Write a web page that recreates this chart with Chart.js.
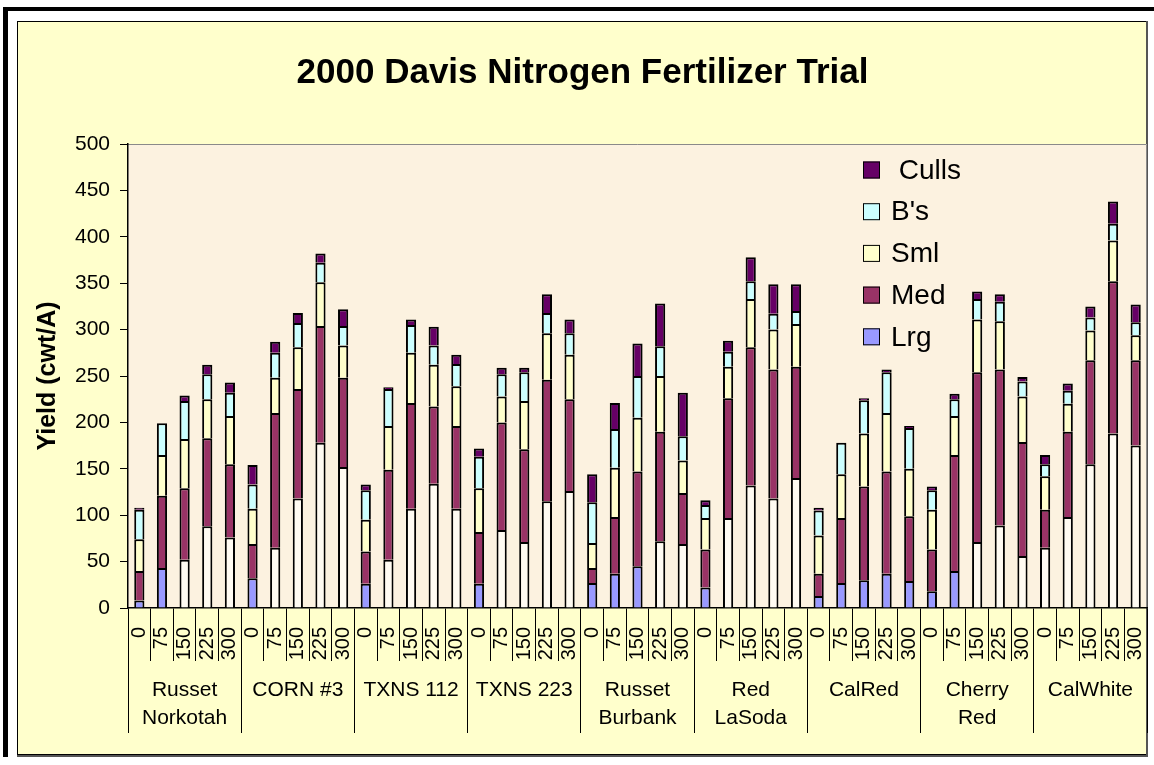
<!DOCTYPE html>
<html>
<head>
<meta charset="utf-8">
<title>2000 Davis Nitrogen Fertilizer Trial</title>
<script src="https://cdn.jsdelivr.net/npm/chart.js@4.4.1/dist/chart.umd.min.js"></script>
<style>
    html, body { margin: 0; padding: 0; background: #ffffff; }
    #chart_wrap { position: relative; width: 1154px; height: 765px; }
</style>
</head>
<body>
<div id="chart_wrap"><canvas id="chart_yield"></canvas></div>
<script>
// varieties and nitrogen rates (lb N/A)
const varieties = [
    ['Russet', 'Norkotah'], 'CORN #3', 'TXNS 112', 'TXNS 223', ['Russet', 'Burbank'],
    ['Red', 'LaSoda'], 'CalRed', ['Cherry', 'Red'], 'CalWhite',
];
const rates = ['0', '75', '150', '225', '300'];

// yield by size class (cwt/A), 5 rates per variety
const lrg_values = [
    8, 43, 52, 88, 76,
    32, 65, 118, 178, 152,
    26, 52, 107, 134, 107,
    26, 84, 71, 115, 126,
    27, 37, 45, 72, 69,
    22, 97, 132, 118, 140,
    13, 27, 30, 37, 29,
    18, 40, 71, 89, 56,
    65, 98, 155, 188, 175,
];
const med_values = [
    32, 78, 77, 95, 79,
    37, 145, 118, 126, 96,
    35, 97, 114, 83, 89,
    56, 116, 100, 131, 99,
    16, 61, 102, 118, 55,
    41, 129, 149, 139, 120,
    24, 70, 101, 110, 70,
    45, 125, 183, 168, 123,
    41, 92, 112, 164, 92,
];
const sml_values = [
    34, 44, 53, 42, 52,
    38, 38, 45, 47, 35,
    34, 47, 54, 45, 43,
    47, 28, 52, 50, 48,
    27, 53, 58, 60, 35,
    34, 34, 52, 43, 46,
    41, 47, 57, 63, 51,
    43, 42, 57, 52, 49,
    36, 30, 32, 44, 27,
];
const bs_values = [
    32, 34, 41, 27, 25,
    26, 27, 26, 21, 21,
    32, 40, 30, 21, 24,
    34, 24, 31, 22, 23,
    44, 42, 45, 32, 26,
    14, 16, 19, 17, 14,
    27, 34, 36, 44, 44,
    21, 18, 22, 21, 16,
    13, 14, 14, 18, 14,
];
const culls_values = [
    2, 0, 6, 10, 11,
    21, 12, 11, 10, 18,
    6, 2, 6, 20, 10,
    9, 7, 5, 20, 15,
    30, 28, 35, 46, 47,
    5, 12, 26, 32, 29,
    3, 0, 2, 3, 2,
    4, 6, 8, 8, 5,
    10, 8, 12, 24, 19,
];

// bars whose bottom segment is shown pale instead of blue in the original
const pale_bottom = [
    0, 0, 1, 1, 1,
    0, 1, 1, 1, 1,
    0, 1, 1, 1, 1,
    0, 1, 1, 1, 1,
    0, 0, 0, 1, 1,
    0, 1, 1, 1, 1,
    0, 0, 0, 0, 0,
    0, 0, 1, 1, 1,
    1, 1, 1, 1, 1,
];

const font_family = '"Liberation Sans", Arial, Helvetica, sans-serif';

function build_rate_labels() {
    const out = [];
    varieties.forEach(() => {
        rates.forEach((r) => out.push(r));
    });
    return out;
}

function make_set(label, values, color) {
    return {
        label: label,
        data: values,
        backgroundColor: color,
        legend_color: color,
        borderColor: '#000000',
        borderWidth: 2,
        barPercentage: 0.45,
        categoryPercentage: 1.0,
        stack: 'yield',
    };
}

const frame_plugin = {
    id: 'frame_plugin',
    beforeDraw(chart) {
        const ctx = chart.ctx;
        const area = chart.chartArea;
        ctx.save();
        ctx.fillStyle = '#ffffff';
        ctx.fillRect(0, 0, chart.width, chart.height);

        // thick black edge, left and top
        ctx.fillStyle = '#000000';
        ctx.fillRect(3, 7, 5, 750);
        ctx.fillRect(3, 7, chart.width - 3, 4);

        // pale yellow chart box
        ctx.fillStyle = '#ffffcc';
        ctx.fillRect(17, 21, 1130, 734);
        ctx.strokeStyle = '#000000';
        ctx.lineWidth = 1;
        ctx.strokeRect(17.5, 21.5, 1129, 733);
        ctx.strokeStyle = '#555555';
        ctx.lineWidth = 2;
        ctx.beginPath();
        ctx.moveTo(1147, 21);
        ctx.lineTo(1147, 756);
        ctx.lineTo(17, 756);
        ctx.stroke();

        // plot area
        ctx.fillStyle = '#fcf2e0';
        ctx.fillRect(area.left, area.top, area.right - area.left, area.bottom - area.top);
        ctx.strokeStyle = '#8a8a8a';
        ctx.lineWidth = 1;
        ctx.beginPath();
        ctx.moveTo(area.left, area.top + 0.5);
        ctx.lineTo(area.right - 0.5, area.top + 0.5);
        ctx.lineTo(area.right - 0.5, area.bottom);
        ctx.stroke();
        ctx.restore();
    },
};

const legend_plugin = {
    id: 'legend_plugin',
    afterDraw(chart) {
        const ctx = chart.ctx;
        const area = chart.chartArea;
        const sets = chart.data.datasets.slice().reverse();
        const box_x = area.right - 284;
        ctx.save();
        ctx.font = '28px ' + font_family;
        ctx.textBaseline = 'middle';
        ctx.textAlign = 'left';
        sets.forEach((ds, i) => {
            const cy = area.top + 26 + i * 41.7;
            ctx.fillStyle = ds.legend_color;
            ctx.fillRect(box_x, cy - 8.5, 17, 17);
            ctx.strokeStyle = '#000000';
            ctx.lineWidth = 1;
            ctx.strokeRect(box_x + 0.5, cy - 8, 16, 16);
            ctx.fillStyle = '#000000';
            ctx.fillText(ds.label, box_x + 28, cy + 1);
        });
        ctx.restore();
    },
};

function draw_chart() {
    const canvas = document.getElementById('chart_yield');
    if (!canvas || typeof Chart === 'undefined') {
        return;
    }

    const lrg_set = make_set('Lrg', lrg_values, '#9999ff');
    lrg_set.backgroundColor = pale_bottom.map((p) => (p ? '#fffbf2' : '#9999ff'));

    const data = {
        labels: build_rate_labels(),
        datasets: [
            lrg_set,
            make_set('Med', med_values, '#993366'),
            make_set('Sml', sml_values, '#ffffcc'),
            make_set("B's", bs_values, '#ccffff'),
            make_set(' Culls', culls_values, '#660066'),
        ],
    };

    new Chart(canvas.getContext('2d'), {
        type: 'bar',
        data: data,
        plugins: [frame_plugin, legend_plugin],
        options: {
            responsive: true,
            maintainAspectRatio: false,
            animation: false,
            layout: {
                padding: { left: 18, right: 7, top: 22, bottom: 10 },
            },
            plugins: {
                legend: { display: false },
                tooltip: { enabled: false },
                title: {
                    display: true,
                    text: '2000 Davis Nitrogen Fertilizer Trial',
                    color: '#000000',
                    font: { family: font_family, size: 35, weight: 'bold' },
                    padding: { top: 30, bottom: 50 },
                },
            },
            scales: {
                x: {
                    stacked: true,
                    offset: true,
                    grid: {
                        offset: true,
                        drawOnChartArea: false,
                        drawTicks: true,
                        tickLength: 53,
                        tickColor: '#000000',
                        tickWidth: 1,
                    },
                    border: { display: true, color: '#000000', width: 1.5 },
                    ticks: {
                        autoSkip: false,
                        minRotation: 90,
                        maxRotation: 90,
                        padding: -34,
                        color: '#000000',
                        font: { family: font_family, size: 20 },
                    },
                    afterFit(scale) {
                        scale.height = 53;
                    },
                },
                x2: {
                    type: 'category',
                    position: 'bottom',
                    labels: varieties,
                    offset: true,
                    grid: {
                        offset: true,
                        drawOnChartArea: false,
                        drawTicks: true,
                        tickLength: 72,
                        tickColor: '#000000',
                        tickWidth: 1,
                    },
                    border: { display: false },
                    ticks: {
                        autoSkip: false,
                        maxRotation: 0,
                        padding: -56,
                        color: '#000000',
                        font: { family: font_family, size: 21, lineHeight: 1.3 },
                    },
                    afterFit(scale) {
                        scale.height = 94;
                    },
                },
                y: {
                    stacked: true,
                    min: 0,
                    max: 500,
                    grid: {
                        drawOnChartArea: false,
                        drawTicks: true,
                        tickLength: 8,
                        tickColor: '#000000',
                    },
                    border: { display: true, color: '#000000', width: 1.5 },
                    ticks: {
                        stepSize: 50,
                        padding: 10,
                        color: '#000000',
                        font: { family: font_family, size: 21 },
                    },
                    title: {
                        display: true,
                        text: 'Yield (cwt/A)',
                        color: '#000000',
                        font: { family: font_family, size: 25, weight: 'bold' },
                        padding: { top: 15, bottom: 4 },
                    },
                    afterFit(scale) {
                        scale.width = 110;
                    },
                },
            },
        },
    });
}

draw_chart();
</script>
</body>
</html>
